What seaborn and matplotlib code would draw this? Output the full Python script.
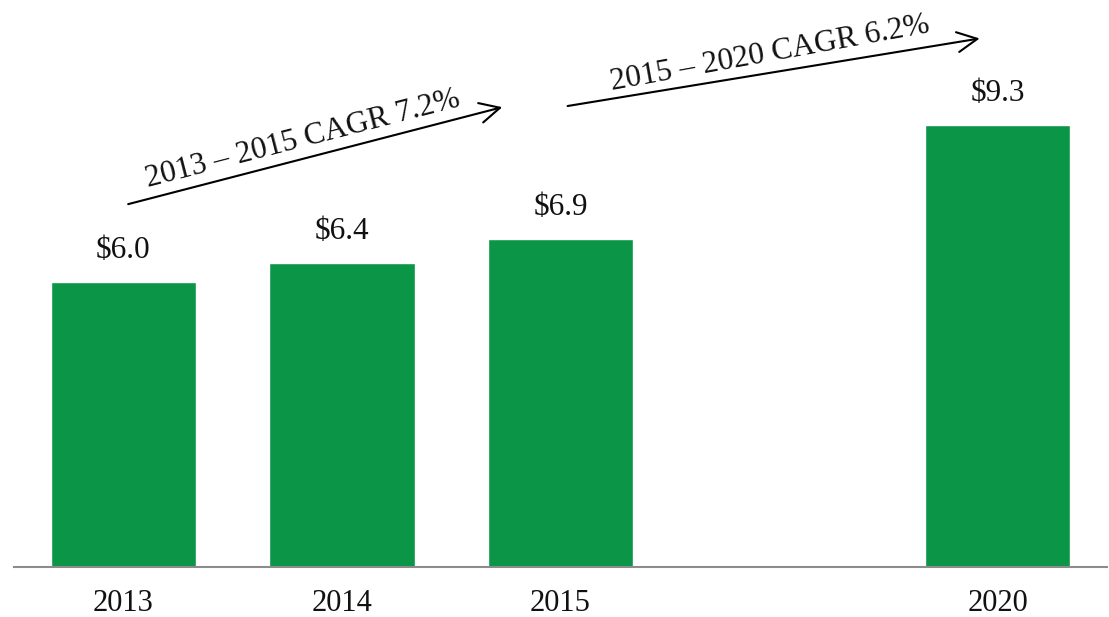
import pandas as pd
import matplotlib
matplotlib.use("Agg")
import matplotlib.pyplot as plt
import seaborn as sns

# Data
years = ["2013", "2014", "2015", "2020"]
values = [6.0, 6.4, 6.9, 9.3]
slot_order = ["2013", "2014", "2015", " ", "2020"]  # empty slot between 2015 and 2020
cagr_labels = ["2013 \u2013 2015 CAGR 7.2%", "2015 \u2013 2020 CAGR 6.2%"]

df = pd.DataFrame({"year": years, "value": values})

sns.set_style("white")
plt.rcParams["font.family"] = ["Liberation Serif", "DejaVu Serif"]

fig = plt.figure(figsize=(11.09, 6.17), dpi=100)
ax = fig.add_axes([14 / 1109, 50 / 617, 1093 / 1109, 567 / 617])

green = "#0A9646"
sns.barplot(data=df, x="year", y="value", order=slot_order, color=green,
            width=0.665, saturation=1, ax=ax)

ax.set_xlim(-0.5, 4.5)
ax.set_ylim(0, 11.93)

# value labels above bars
for p, v in zip([c for c in ax.patches if c.get_height() > 0], values):
    ax.annotate(f"${v:.1f}", (p.get_x() + p.get_width() / 2, p.get_height()),
                xytext=(0, 12), textcoords="offset points",
                ha="center", va="bottom", fontsize=22.5, color="#111111")

# CAGR arrows
ax.annotate("", xy=(1.746, 9.69), xytext=(0.01, 7.62),
            arrowprops=dict(arrowstyle="->", lw=1.5, color="black",
                            mutation_scale=36))
ax.annotate("", xy=(3.93, 11.13), xytext=(2.02, 9.69),
            arrowprops=dict(arrowstyle="->", lw=1.5, color="black",
                            mutation_scale=36))
ax.text(0.82, 9.0, cagr_labels[0], rotation=14.5, ha="center", va="center",
        fontsize=22.5, color="#111111", rotation_mode="anchor")
ax.text(2.96, 10.8, cagr_labels[1], rotation=10.3, ha="center", va="center",
        fontsize=22.5, color="#111111", rotation_mode="anchor")

# axes styling
for s in ["top", "right", "left"]:
    ax.spines[s].set_visible(False)
ax.spines["bottom"].set_color("#8C8C8C")
ax.spines["bottom"].set_linewidth(1.5)
ax.set_yticks([])
ax.set_xlabel("")
ax.set_ylabel("")
ax.tick_params(axis="x", length=0, pad=16, labelsize=22, labelcolor="#111111")

fig.savefig("out.png", dpi=100)
